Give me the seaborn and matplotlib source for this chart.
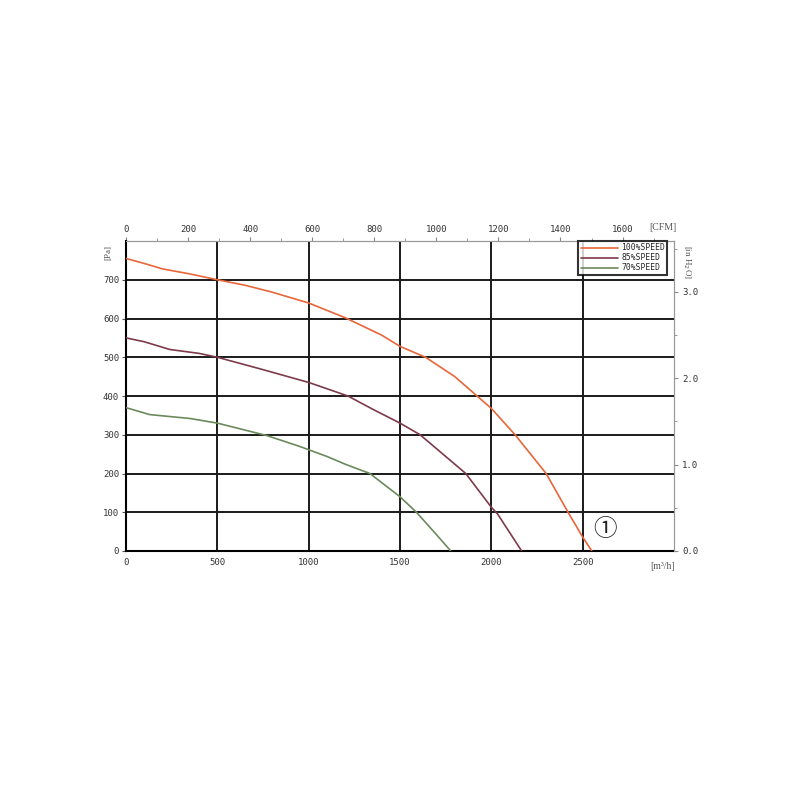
import numpy as np
import pandas as pd
import seaborn as sns
import matplotlib.pyplot as plt
from matplotlib.ticker import MultipleLocator

# fan curves (airflow m3/h, static pressure Pa)
x_100 = [0, 100, 200, 350, 500, 650, 800, 1000, 1200, 1400, 1500, 1640, 1800, 2000, 2130, 2300, 2420, 2500, 2550]
y_100 = [755, 742, 728, 715, 700, 686, 668, 640, 602, 557, 528, 500, 450, 368, 300, 200, 100, 36, 0]

x_85 = [0, 100, 240, 400, 500, 750, 1000, 1215, 1350, 1500, 1610, 1860, 2000, 2035, 2166]
y_85 = [550, 540, 520, 510, 500, 468, 435, 400, 366, 330, 300, 200, 113, 95, 0]

x_70 = [0, 130, 350, 500, 770, 950, 1100, 1200, 1335, 1500, 1590, 1700, 1778]
y_70 = [370, 352, 342, 330, 298, 270, 244, 224, 200, 140, 100, 42, 0]

speeds = ["100%SPEED", "85%SPEED", "70%SPEED"]
colors = ["#e8663a", "#7d3a4a", "#6a8a5c"]

df = pd.concat([
    pd.DataFrame({"flow": x_100, "pa": y_100, "speed": speeds[0]}),
    pd.DataFrame({"flow": x_85, "pa": y_85, "speed": speeds[1]}),
    pd.DataFrame({"flow": x_70, "pa": y_70, "speed": speeds[2]}),
]).reset_index(drop=True)

sns.set_style("white")
plt.rcParams['font.family'] = ['DejaVu Sans Mono', 'DejaVu Sans']

fig = plt.figure(figsize=(8, 8), dpi=100)
ax = fig.add_axes([0.1575, 0.31125, 0.685, 0.3875])

sns.lineplot(data=df, x="flow", y="pa", hue="speed", palette=dict(zip(speeds, colors)),
             sort=False, estimator=None, linewidth=1.2, ax=ax, zorder=3)

ax.set_xlim(0, 3000)
ax.set_ylim(0, 800)
ax.set_xticks([0, 500, 1000, 1500, 2000, 2500])
ax.set_yticks(range(0, 800, 100))
for v in [500, 1000, 1500, 2000, 2500]:
    ax.axvline(v, color="#1a1a1a", lw=1.4, zorder=1)
for v in range(100, 800, 100):
    ax.axhline(v, color="#1a1a1a", lw=1.4, zorder=1)
ax.set_xlabel("")
ax.set_ylabel("")
ax.tick_params(labelsize=6.5, length=3, color="#555555", labelcolor="#333333", pad=2)

for s in ["left", "bottom"]:
    ax.spines[s].set_color("black")
    ax.spines[s].set_linewidth(1.5)
for s in ["top", "right"]:
    ax.spines[s].set_color("#999999")
    ax.spines[s].set_linewidth(0.8)

# top CFM axis
top = ax.secondary_xaxis("top", functions=(lambda q: q / 1.699, lambda c: c * 1.699))
top.set_xticks(range(0, 1700, 200))
top.xaxis.set_minor_locator(MultipleLocator(100))
top.tick_params(labelsize=6.5, length=3, color="#888888", labelcolor="#333333", pad=2)
top.tick_params(which="minor", length=2, color="#888888")
top.spines["top"].set_color("#999999")
top.spines["top"].set_linewidth(0.8)

# right inH2O axis
right = ax.twinx()
right.set_ylim(0, 3.59)
right.set_yticks([0, 1, 2, 3])
right.set_yticklabels(["0.0", "1.0", "2.0", "3.0"])
right.yaxis.set_minor_locator(MultipleLocator(0.5))
right.tick_params(labelsize=6.5, length=3, color="#888888", labelcolor="#333333", pad=3)
right.tick_params(which="minor", length=2, color="#888888")
for s in right.spines.values():
    s.set_visible(False)
right.spines["right"].set_visible(True)
right.spines["right"].set_color("#999999")
right.spines["right"].set_linewidth(0.8)

leg = ax.legend(loc="upper right", bbox_to_anchor=(0.988, 1.0), fontsize=5.8, frameon=True,
                fancybox=False, handlelength=4.6, borderpad=0.3, labelspacing=0.12,
                borderaxespad=0.0, handletextpad=0.4)
leg.get_frame().set_edgecolor("black")
leg.get_frame().set_linewidth(1.5)
leg.set_zorder(5)

serif = ["Liberation Serif", "DejaVu Serif"]
fig.text(0.135, 0.685, "[Pa]", rotation=90, fontsize=6.5, family=serif, color="#555555",
         ha="center", va="center")
fig.text(0.858, 0.672, "[in H$_2$O]", rotation=270, fontsize=6.5, family=serif, color="#555555",
         ha="center", va="center")
fig.text(0.828, 0.716, "[CFM]", fontsize=7, family=serif, color="#555555", ha="center", va="center")
fig.text(0.828, 0.292, "[m³/h]", fontsize=7, family=serif, color="#555555", ha="center", va="center")
ax.text(2620, 55, "①", fontsize=17, family=["DejaVu Serif", "Noto Sans CJK SC"],
        ha="center", va="center", color="#222222")

fig.savefig("out.png", dpi=100, facecolor="white")
